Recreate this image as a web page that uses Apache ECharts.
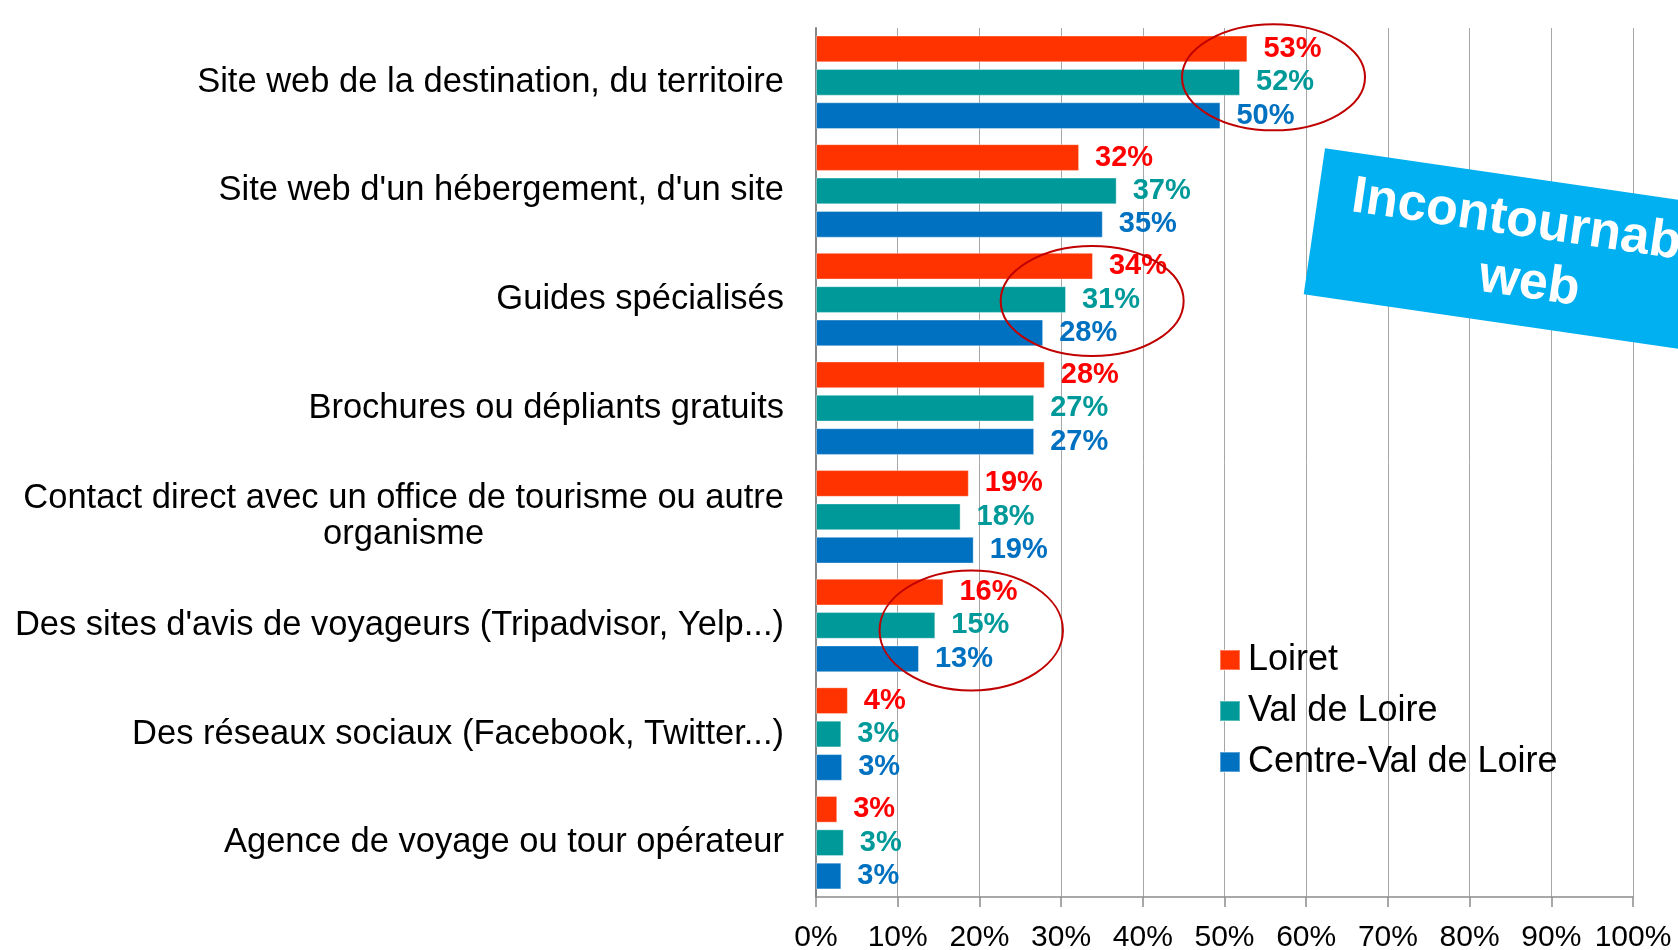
<!DOCTYPE html>
<html>
<head>
<meta charset="utf-8">
<script src="https://cdn.jsdelivr.net/npm/echarts@6/dist/echarts.min.js"></script>
<style>
html,body{margin:0;padding:0;background:#fff;}
#chart{width:1678px;height:950px;}
</style>
</head>
<body>
<div id="chart"></div>
<script>
// ---- data ----
var categories = [
  "Site web de la destination, du territoire",
  "Site web d'un hébergement, d'un site",
  "Guides spécialisés",
  "Brochures ou dépliants gratuits",
  "Contact direct avec un office de tourisme ou autre\norganisme",
  "Des sites d'avis de voyageurs (Tripadvisor, Yelp...)",
  "Des réseaux sociaux (Facebook, Twitter...)",
  "Agence de voyage ou tour opérateur"
];
var seriesNames = ["Loiret", "Val de Loire", "Centre-Val de Loire"];
var loiret      = [52.8, 32.2, 33.9, 28.0, 18.7, 15.6, 3.9, 2.6];
var valDeLoire  = [51.9, 36.8, 30.6, 26.7, 17.7, 14.6, 3.1, 3.4];
var centreVdl   = [49.5, 35.1, 27.8, 26.7, 19.3, 12.6, 3.2, 3.1];
var xTicks = [0, 10, 20, 30, 40, 50, 60, 70, 80, 90, 100];
var calloutLines = ["Incontournable", "web"];
// highlighted groups: [x value (%), category index]
var highlights = [[56, 0], [33.8, 2], [19.0, 5]];

var barColors = ["#FF3300", "#009999", "#0070C0"];
var labelColors = ["#FF0000", "#009999", "#0070C0"];
var FONT = "Liberation Sans, Arial, Helvetica, sans-serif";

var chart = echarts.init(document.getElementById('chart'), null, {renderer: 'canvas'});

function mkSeries(name, data, i) {
  return {
    name: name,
    type: 'bar',
    data: data,
    barWidth: 26.7,
    barGap: '25%',
    itemStyle: {color: barColors[i], borderColor: 'rgba(255,255,255,0.35)', borderWidth: 1},
    label: {
      show: true,
      position: 'right',
      distance: 16,
      fontFamily: FONT,
      fontWeight: 'bold',
      fontSize: 29,
      color: labelColors[i],
      formatter: function (p) { return Math.round(p.value) + '%'; }
    },
    emphasis: {disabled: true},
    z: 2
  };
}

var option = {
  animation: false,
  backgroundColor: '#ffffff',
  grid: {left: 816, right: 45, top: 28, bottom: 53, containLabel: false, outerBoundsMode: 'none'},
  legend: {
    orient: 'vertical',
    left: 1219,
    top: 640,
    padding: 0,
    itemWidth: 20,
    itemHeight: 20,
    itemGap: 11,
    icon: 'rect',
    data: seriesNames,
    textStyle: {fontFamily: FONT, fontSize: 36, color: '#000', lineHeight: 40, padding: [0, 0, 0, 3]}
  },
  xAxis: {
    type: 'value',
    min: xTicks[0],
    max: xTicks[xTicks.length - 1],
    interval: xTicks[1] - xTicks[0],
    axisLine: {show: true, lineStyle: {color: '#8c8c8c', width: 1.5}},
    axisTick: {show: true, length: 10, lineStyle: {color: '#8c8c8c', width: 1.5}},
    splitLine: {show: true, lineStyle: {color: '#a6a6a6', width: 1}},
    axisLabel: {
      formatter: '{value}%',
      fontFamily: FONT,
      fontSize: 30,
      color: '#000',
      margin: 26,
      lineHeight: 30
    }
  },
  yAxis: {
    type: 'category',
    inverse: true,
    data: categories,
    axisLine: {show: true, lineStyle: {color: '#868686', width: 2}},
    axisTick: {show: false},
    splitLine: {show: false},
    axisLabel: {
      margin: 32,
      fontFamily: FONT,
      fontSize: 34.5,
      color: '#000',
      lineHeight: 36,
      formatter: function (v) {
        return v.split('\n').map(function (s) { return '{c|' + s + '}'; }).join('\n');
      },
      rich: {
        c: {align: 'center', fontFamily: FONT, fontSize: 34.5, color: '#000', lineHeight: 36}
      }
    }
  },
  series: [
    mkSeries(seriesNames[0], loiret, 0),
    mkSeries(seriesNames[1], valDeLoire, 1),
    mkSeries(seriesNames[2], centreVdl, 2)
  ]
};
chart.setOption(option);

// annotations: ellipses around highlighted groups, and the rotated callout
var ellipseSizes = [[91.5, 53, -5], [91.5, 55, 1.5], [91.7, 60, 5]];
var graphics = [];
highlights.forEach(function (h, i) {
  var pt = chart.convertToPixel({gridIndex: 0}, [h[0], categories[h[1]]]);
  graphics.push({
    type: 'ellipse',
    shape: {cx: pt[0], cy: pt[1] + ellipseSizes[i][2], rx: ellipseSizes[i][0], ry: ellipseSizes[i][1]},
    style: {fill: 'none', stroke: '#C00000', lineWidth: 2},
    z: 20,
    silent: true
  });
});
graphics.push({
  type: 'group',
  x: 1325,
  y: 148.3,
  rotation: -8.3 * Math.PI / 180,
  z: 30,
  silent: true,
  children: [
    {type: 'rect', shape: {x: 0, y: 0, width: 443, height: 147.5}, style: {fill: '#00B0F0'}},
    {type: 'text', x: 221.5, y: 44, style: {text: calloutLines[0], fill: '#fff', font: 'bold 52px ' + FONT, textAlign: 'center', textVerticalAlign: 'middle'}},
    {type: 'text', x: 221.5, y: 104.4, style: {text: calloutLines[1], fill: '#fff', font: 'bold 52px ' + FONT, textAlign: 'center', textVerticalAlign: 'middle'}}
  ]
});
chart.setOption({graphic: graphics});
</script>
</body>
</html>
